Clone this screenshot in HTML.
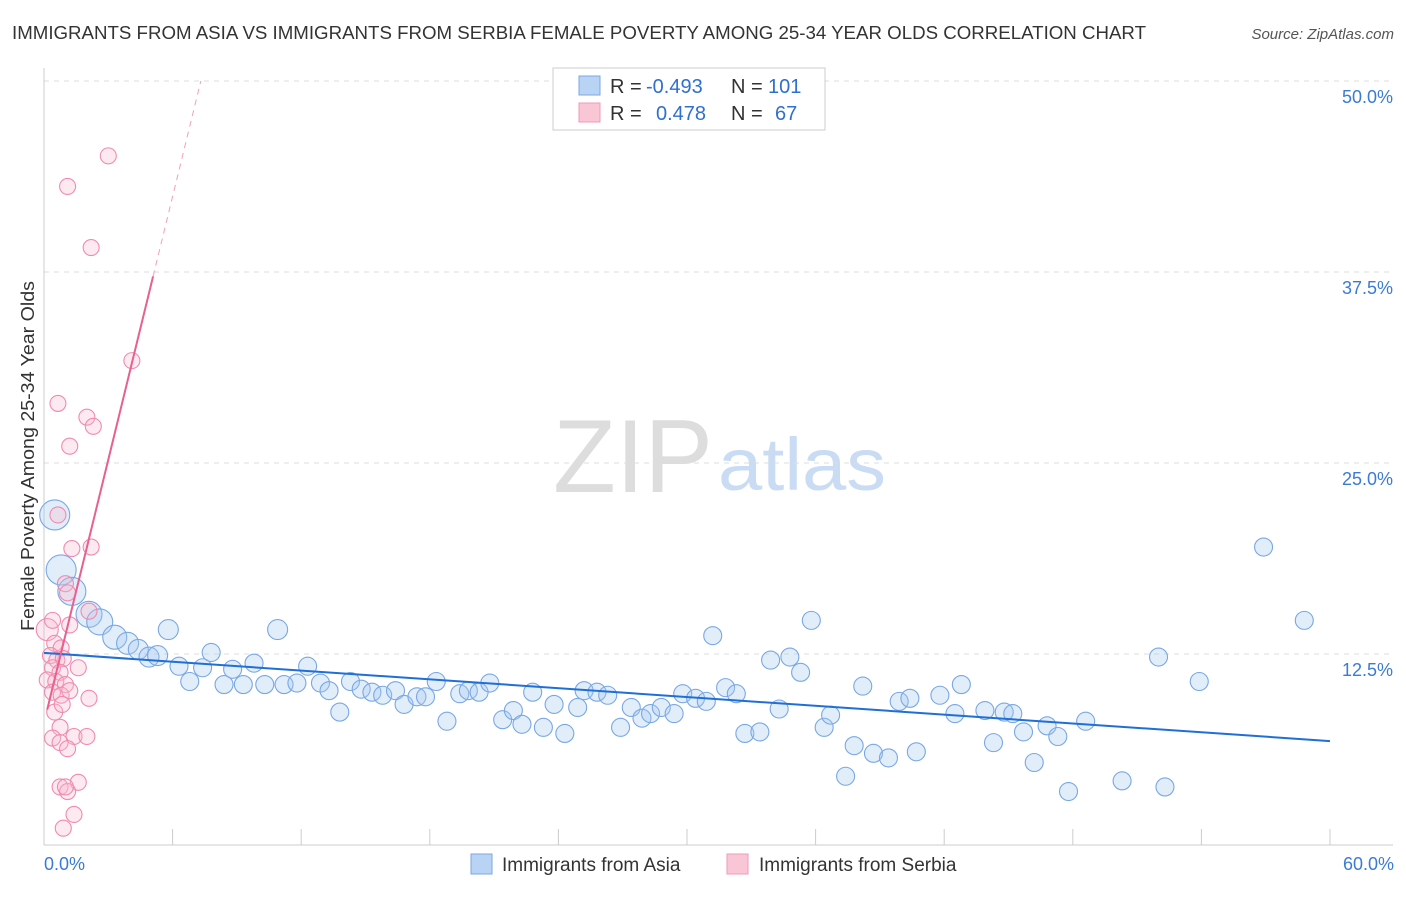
<!DOCTYPE html>
<html><head><meta charset="utf-8">
<style>
body{margin:0;background:#fff;font-family:"Liberation Sans",sans-serif;}
svg text{font-family:"Liberation Sans",sans-serif;}
</style></head>
<body>
<svg id="chart" width="1406" height="892" xmlns="http://www.w3.org/2000/svg">
<text x="12" y="39" font-size="18" fill="#333" textLength="1134" lengthAdjust="spacingAndGlyphs">IMMIGRANTS FROM ASIA VS IMMIGRANTS FROM SERBIA FEMALE POVERTY AMONG 25-34 YEAR OLDS CORRELATION CHART</text>
<text x="1394" y="39" font-size="15" fill="#555" text-anchor="end" font-style="italic">Source: ZipAtlas.com</text>
<g>
<text x="553" y="492" font-size="104" fill="#ddd" font-family="Liberation Serif, serif" textLength="160" lengthAdjust="spacingAndGlyphs">ZIP</text>
<text x="718" y="490" font-size="74" fill="#c9dcf3" textLength="168" lengthAdjust="spacingAndGlyphs">atlas</text>
</g>
<g id="grid"></g>
<g id="axes"></g>
<g id="marks"></g>
<text transform="translate(34,456) rotate(-90)" font-size="18" fill="#333" text-anchor="middle" textLength="350" lengthAdjust="spacingAndGlyphs">Female Poverty Among 25-34 Year Olds</text>
<g>
<rect x="553" y="68" width="272" height="62" fill="#fff" stroke="#ccc"/>
<rect x="579" y="76" width="21" height="19" fill="#b9d3f5" stroke="#7aa7e4"/>
<rect x="579" y="103" width="21" height="19" fill="#f9c6d6" stroke="#f09ab8"/>
<text x="610" y="93" font-size="20" fill="#333">R =</text>
<text x="646" y="93" font-size="20" fill="#2f6fd0">-0.493</text>
<text x="731" y="93" font-size="20" fill="#333">N =</text>
<text x="768" y="93" font-size="20" fill="#2f6fd0">101</text>
<text x="610" y="120" font-size="20" fill="#333">R =</text>
<text x="656" y="120" font-size="20" fill="#2f6fd0">0.478</text>
<text x="731" y="120" font-size="20" fill="#333">N =</text>
<text x="775" y="120" font-size="20" fill="#2f6fd0">67</text>
</g>
<g>
<rect x="471" y="854" width="21" height="20" fill="#b9d3f5" stroke="#7aa7e4"/>
<text x="502" y="871" font-size="19" fill="#333">Immigrants from Asia</text>
<rect x="727" y="854" width="21" height="20" fill="#f9c6d6" stroke="#f09ab8"/>
<text x="759" y="871" font-size="19" fill="#333">Immigrants from Serbia</text>
</g>
</svg>
<script>
const xTicks=[0,6,12,18,24,30,36,42,48,54,60];
const yTicks=[12.5,25,37.5,50];
const asiaX=[0.5,0.8,1.3,2.1,2.6,3.3,3.9,4.4,4.9,5.3,5.8,6.3,6.8,7.4,7.8,8.4,8.8,9.3,9.8,10.3,10.9,11.2,11.8,12.3,12.9,13.3,13.8,14.3,14.8,15.3,15.8,16.4,16.8,17.4,17.8,18.3,18.8,19.4,19.8,20.3,20.8,21.4,21.9,22.3,22.8,23.3,23.8,24.3,24.9,25.2,25.8,26.3,26.9,27.4,27.9,28.3,28.8,29.4,29.8,30.4,30.9,31.2,31.8,32.3,32.7,33.4,33.9,34.3,34.8,35.3,35.8,36.4,36.7,37.4,37.8,38.2,38.7,39.4,39.9,40.4,40.7,41.8,42.5,42.8,43.9,44.3,44.8,45.2,45.7,46.2,46.8,47.3,47.8,48.6,50.3,52.0,52.3,53.9,56.9,58.8];
const asiaY=[21.6,18.0,16.6,15.1,14.6,13.6,13.2,12.8,12.3,12.4,14.1,11.7,10.7,11.6,12.6,10.5,11.5,10.5,11.9,10.5,14.1,10.5,10.6,11.7,10.6,10.1,8.7,10.7,10.2,10.0,9.8,10.1,9.2,9.7,9.7,10.7,8.1,9.9,10.1,10.0,10.6,8.2,8.8,7.9,10.0,7.7,9.2,7.3,9.0,10.1,10.0,9.8,7.7,9.0,8.3,8.6,9.0,8.6,9.9,9.6,9.4,13.7,10.3,9.9,7.3,7.4,12.1,8.9,12.3,11.3,14.7,7.7,8.5,4.5,6.5,10.4,6.0,5.7,9.4,9.6,6.1,9.8,8.6,10.5,8.8,6.7,8.7,8.6,7.4,5.4,7.8,7.1,3.5,8.1,4.2,12.3,3.8,10.7,19.5,14.7];
const asiaR=[15,15,14,13,13,12,11,10,10,10,10,9,9,9,9,9,9,9,9,9,10];
const serbiaX=[3.0,1.1,2.2,4.1,0.65,2.0,2.3,1.2,0.65,2.2,1.3,1.0,1.1,2.1,0.15,0.5,0.8,0.3,0.6,0.9,0.4,0.75,0.15,0.55,1.0,0.4,0.8,1.6,1.2,2.1,0.5,0.85,0.75,0.4,1.4,2.0,0.75,1.1,1.6,0.75,1.1,1.0,1.4,0.9,1.2,0.4];
const serbiaY=[45.1,43.1,39.1,31.7,28.9,28.0,27.4,26.1,21.6,19.5,19.4,17.1,16.5,15.3,14.1,13.2,12.9,12.4,12.1,12.2,11.6,11.3,10.8,10.7,10.5,10.0,9.8,11.6,10.1,9.6,8.7,9.2,7.7,7.0,7.1,7.1,6.7,6.3,4.1,3.8,3.5,3.8,2.0,1.1,14.4,14.7];
const asiaTrend=[12.57,6.8];
const serbiaTrend=[8.0,5.74];
const X=v=>44+v*(1286/60);
const Y=v=>845-v*15.28;
const NS="http://www.w3.org/2000/svg";
function mk(tag,attrs,parent){const e=document.createElementNS(NS,tag);for(const k in attrs)e.setAttribute(k,attrs[k]);document.getElementById(parent).appendChild(e);return e;}
yTicks.forEach(t=>{
 const l=mk('line',{x1:44,x2:1393,y1:Y(t),y2:Y(t),stroke:'#ddd','stroke-dasharray':'5,5'},'grid');
 
 
 const tx=mk('text',{x:1393,y:Y(t)+22,'font-size':18,fill:'#3a7bd5','text-anchor':'end'},'axes');
 tx.textContent=t.toFixed(1)+'%';
 
 
});
const ax=mk('line',{x1:44,x2:44,y1:68,y2:845,stroke:'#ccc'},'axes');


const bx=mk('line',{x1:44,x2:1393,y1:845,y2:845,stroke:'#ccc'},'axes');


xTicks.forEach(t=>{
 const l=mk('line',{x1:X(t),x2:X(t),y1:829,y2:845,stroke:'#ccc'},'axes');
 
 
});
[[0,'start',44],[60,'end',1394]].forEach(a=>{
 const tx=mk('text',{x:a[2],y:870,'font-size':18,fill:'#3a7bd5','text-anchor':a[1]},'axes');
 tx.textContent=a[0].toFixed(1)+'%';
 
 
});
asiaX.forEach((x,i)=>{
 const c=mk('circle',{cx:X(x),cy:Y(asiaY[i]),r:asiaR[i]||9,fill:'rgba(165,198,240,0.32)',stroke:'#78a8e4','stroke-width':1.1},'marks');
 
 
});
serbiaX.forEach((x,i)=>{
 const c=mk('circle',{cx:X(x),cy:Y(serbiaY[i]),r:i==14?11:8,fill:'rgba(248,185,205,0.3)',stroke:'#f08ab0','stroke-width':1.1},'marks');
 
 
});
const at=mk('line',{x1:X(0),y1:Y(asiaTrend[0]),x2:X(60),y2:Y(asiaTrend[1]),stroke:'#1f6fd6','stroke-width':2},'marks');


const sy=x=>serbiaTrend[0]+serbiaTrend[1]*x;
const x1=0.15,x2=5.09,x3=(50-serbiaTrend[0])/serbiaTrend[1];
const st=mk('line',{x1:X(x1),y1:Y(sy(x1)),x2:X(x2),y2:Y(sy(x2)),stroke:'#e8608f','stroke-width':2},'marks');


const sd=mk('line',{x1:X(x2),y1:Y(sy(x2)),x2:X(x3),y2:Y(50),stroke:'#f0a0bd','stroke-width':1,'stroke-dasharray':'6,5'},'marks');


</script>
</body></html>
